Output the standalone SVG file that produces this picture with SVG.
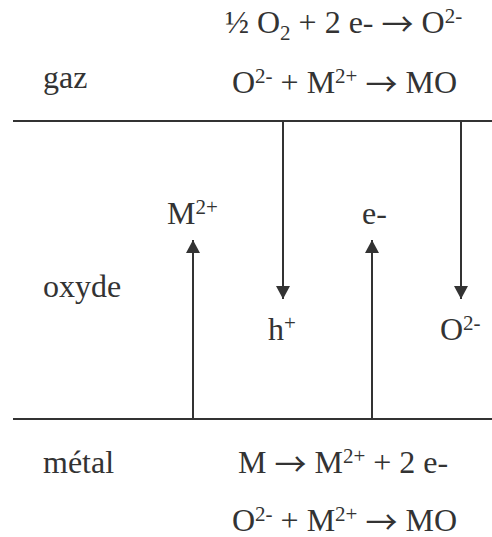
<svg xmlns="http://www.w3.org/2000/svg" width="492" height="537" viewBox="0 0 492 537">
<style>
text{font-family:"Liberation Serif",Tinos,"Times New Roman","DejaVu Serif",serif;font-size:32px;fill:#333}
.sup{font-size:21px}
.arr{font-family:"Noto Sans CJK JP","Noto Sans CJK SC",sans-serif;font-size:32px}
.ln{stroke:#333;stroke-width:2;fill:none}
</style>
<defs>
<marker id="ah" viewBox="0 0 13 14" refX="13" refY="7" markerWidth="13" markerHeight="14" markerUnits="userSpaceOnUse" orient="auto">
<path d="M0,0 L13,7 L0,14 Z" fill="#333"/>
</marker>
</defs>
<rect width="492" height="537" fill="#fff"/>
<g id="boundaries">
<line class="ln" x1="13" y1="121" x2="492" y2="121"/>
<line class="ln" x1="13" y1="419" x2="492" y2="419"/>
</g>
<g id="connectors">
<line class="ln" x1="283" y1="121" x2="283" y2="299" marker-end="url(#ah)"/>
<line class="ln" x1="461" y1="121" x2="461" y2="299" marker-end="url(#ah)"/>
<line class="ln" x1="193" y1="419" x2="193" y2="240" marker-end="url(#ah)"/>
<line class="ln" x1="372" y1="419" x2="372" y2="240" marker-end="url(#ah)"/>
</g>
<g id="gaz">
<text x="43" y="88">gaz</text>
<text x="225" y="33">½ O<tspan class="sup" dy="7">2</tspan><tspan dy="-7"> + 2 e- </tspan><tspan class="arr" dy="3">→</tspan><tspan dy="-3"> O</tspan><tspan class="sup" dy="-10">2-</tspan></text>
<text x="232" y="93">O<tspan class="sup" dy="-10">2-</tspan><tspan dy="10"> + M</tspan><tspan class="sup" dy="-10">2+</tspan><tspan dy="10"> </tspan><tspan class="arr" dy="3">→</tspan><tspan dy="-3"> MO</tspan></text>
</g>
<g id="oxyde">
<text x="43" y="297">oxyde</text>
<text x="167" y="224">M<tspan class="sup" dy="-10">2+</tspan></text>
<text x="362" y="224">e-</text>
<text x="268" y="340">h<tspan class="sup" dy="-10">+</tspan></text>
<text x="440" y="340">O<tspan class="sup" dy="-10">2-</tspan></text>
</g>
<g id="metal">
<text x="43" y="473">métal</text>
<text x="238" y="473">M <tspan class="arr" dy="3">→</tspan><tspan dy="-3"> M</tspan><tspan class="sup" dy="-10">2+</tspan><tspan dy="10"> + 2 e-</tspan></text>
<text x="232" y="531">O<tspan class="sup" dy="-10">2-</tspan><tspan dy="10"> + M</tspan><tspan class="sup" dy="-10">2+</tspan><tspan dy="10"> </tspan><tspan class="arr" dy="3">→</tspan><tspan dy="-3"> MO</tspan></text>
</g>
</svg>
